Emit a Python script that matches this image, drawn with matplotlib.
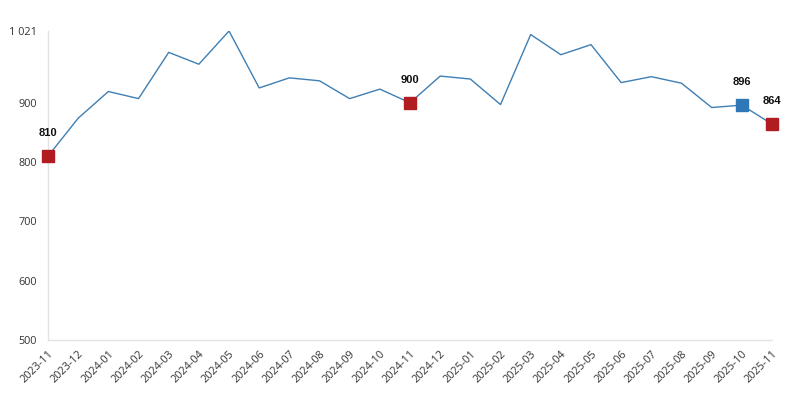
import matplotlib.pyplot as plt

months = ['2023-11', '2023-12', '2024-01', '2024-02', '2024-03', '2024-04', '2024-05',
          '2024-06', '2024-07', '2024-08', '2024-09', '2024-10', '2024-11', '2024-12',
          '2025-01', '2025-02', '2025-03', '2025-04', '2025-05', '2025-06', '2025-07',
          '2025-08', '2025-09', '2025-10', '2025-11']
values = [810, 874, 919, 907, 985, 965, 1021, 925, 942, 937, 907, 923, 900, 945,
          940, 897, 1015, 981, 998, 934, 944, 933, 892, 896, 864]

# highlighted points: index -> colour
red_idx = [0, 12, 24]
blue_idx = [23]
yticks = [500, 600, 700, 800, 900, 1021]

plt.rcParams['font.family'] = ['Open Sans', 'DejaVu Sans']

fig = plt.figure(figsize=(8.02, 4.0), dpi=100)
ax = fig.add_axes([0.0599, 0.15, 0.9027, 0.7725])

x = list(range(len(months)))
ax.plot(x, values, color='#3f7fb3', linewidth=1.0, zorder=2)

for i in red_idx:
    ax.plot(i, values[i], marker='s', markersize=8.5, color='#b01c20',
            linestyle='none', clip_on=False, zorder=3)
for i in blue_idx:
    ax.plot(i, values[i], marker='s', markersize=8.5, color='#2f78b8',
            linestyle='none', clip_on=False, zorder=3)

for i in red_idx + blue_idx:
    ax.annotate(str(values[i]), (i, values[i]), xytext=(0, 16.5),
                textcoords='offset points', ha='center', va='center',
                fontsize=8, fontweight='bold', color='#111111',
                family=['Liberation Sans', 'DejaVu Sans'])

ax.set_xlim(0, len(months) - 1)
ax.set_ylim(500, 1021)
ax.set_yticks(yticks)
ax.set_yticklabels([f'{v:,}'.replace(',', ' ') for v in yticks])
ax.set_xticks(x)
ax.set_xticklabels(months, rotation=45, ha='right', rotation_mode='anchor')

for side in ['top', 'right']:
    ax.spines[side].set_visible(False)
for side in ['left', 'bottom']:
    ax.spines[side].set_color('#e3e3e3')
    ax.spines[side].set_linewidth(1.0)
ax.tick_params(length=0, labelsize=7.8, labelcolor='#333333')
ax.tick_params(axis='y', pad=8)
ax.tick_params(axis='x', pad=6)

fig.savefig('out.png', dpi=100)
